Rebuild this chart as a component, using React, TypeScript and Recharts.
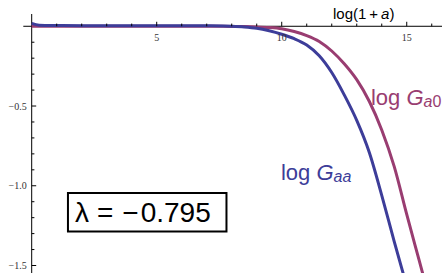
import React from "react";
import {
  LineChart,
  Line,
  XAxis,
  YAxis,
  ReferenceLine,
  ReferenceDot,
  ReferenceArea,
} from "recharts";

// ---- data ----
const xGaa = [0, 0.3, 1, 2, 3, 4, 5, 6, 7, 8, 8.5, 9, 9.5, 10, 10.5, 11, 11.5, 12, 12.5, 13, 13.5, 14, 14.5, 15];
const logGaa = [0.018, 0.007, 0.005, 0.004, 0.004, 0.004, 0.004, 0.004, 0.003, 0.0, -0.004, -0.012, -0.028, -0.05, -0.078, -0.118, -0.185, -0.29, -0.43, -0.59, -0.79, -1.06, -1.35, -1.63];

const xGa0 = [0, 1, 2, 3, 4, 5, 6, 7, 8, 8.5, 9, 9.5, 10, 10.5, 11, 11.5, 12, 12.5, 13, 13.5, 14, 14.5, 15, 15.5, 16, 16.5];
const logGa0 = [0, 0, 0, 0, 0, 0, 0, 0, -0.001, -0.002, -0.004, -0.008, -0.016, -0.033, -0.058, -0.095, -0.155, -0.235, -0.335, -0.47, -0.65, -0.88, -1.18, -1.47, -1.76, -2.05];

const xMajorTicks = [5, 10, 15];
const xTickLabels = ["5", "10", "15"];
const xMinorTicks = [1, 2, 3, 4, 6, 7, 8, 9, 11, 12, 13, 14, 16];
const yMajorTicks = [-0.5, -1.0, -1.5];
const yTickLabels = ["\u22120.5", "\u22121.0", "\u22121.5"];
const yMinorTicks = [-0.1, -0.2, -0.3, -0.4, -0.6, -0.7, -0.8, -0.9, -1.1, -1.2, -1.3, -1.4];

const xDomain: [number, number] = [-0.336, 16.41];
const yDomain: [number, number] = [-1.547, 0.077];

const gaaData = xGaa.map((x, i) => ({ x, y: logGaa[i] }));
const ga0Data = xGa0.map((x, i) => ({ x, y: logGa0[i] }));

const SANS = "'Liberation Sans', Arial, Helvetica, sans-serif";
const SERIF = "'Liberation Serif', 'Times New Roman', serif";
const BLUE = "#3d3d99";
const MAGENTA = "#993d71";

export default function App() {
  return (
    <div style={{ position: "absolute", left: 0, top: 0, width: 442, height: 273, background: "#fff" }}>
      <LineChart width={442} height={273} margin={{ top: 14, right: 0, bottom: 0, left: 23.3 }}>
        <XAxis type="number" dataKey="x" domain={xDomain} allowDataOverflow hide />
        <YAxis type="number" dataKey="y" domain={yDomain} allowDataOverflow hide />

        <ReferenceLine x={0} stroke="#000" strokeWidth={1} />
        <ReferenceLine y={0} stroke="#000" strokeWidth={1} />

        {xMajorTicks.map((v, i) => (
          <ReferenceDot
            key={"xM" + i}
            x={v}
            y={0}
            r={1}
            shape={(p: any) => (
              <g>
                <line x1={p.cx} y1={p.cy} x2={p.cx} y2={p.cy - 4.5} stroke="#000" strokeWidth={1} />
                <text x={p.cx} y={p.cy + 14.5} textAnchor="middle" fontFamily={SERIF} fontSize={10} fill="#333">
                  {xTickLabels[i]}
                </text>
              </g>
            )}
          />
        ))}
        {xMinorTicks.map((v, i) => (
          <ReferenceDot
            key={"xm" + i}
            x={v}
            y={0}
            r={1}
            shape={(p: any) => (
              <line x1={p.cx} y1={p.cy} x2={p.cx} y2={p.cy - 2.7} stroke="#000" strokeWidth={1} />
            )}
          />
        ))}
        {yMajorTicks.map((v, i) => (
          <ReferenceDot
            key={"yM" + i}
            x={0}
            y={v}
            r={1}
            shape={(p: any) => (
              <g>
                <line x1={p.cx} y1={p.cy} x2={p.cx + 4.5} y2={p.cy} stroke="#000" strokeWidth={1} />
                <text x={p.cx - 5} y={p.cy + 3.5} textAnchor="end" fontFamily={SERIF} fontSize={10} fill="#333">
                  {yTickLabels[i]}
                </text>
              </g>
            )}
          />
        ))}
        {yMinorTicks.map((v, i) => (
          <ReferenceDot
            key={"ym" + i}
            x={0}
            y={v}
            r={1}
            shape={(p: any) => (
              <line x1={p.cx} y1={p.cy} x2={p.cx + 2.7} y2={p.cy} stroke="#000" strokeWidth={1} />
            )}
          />
        ))}

        <Line
          data={ga0Data}
          dataKey="y"
          type="monotone"
          stroke={MAGENTA}
          strokeWidth={3}
          dot={false}
          activeDot={false}
          isAnimationActive={false}
        />
        <Line
          data={gaaData}
          dataKey="y"
          type="monotone"
          stroke={BLUE}
          strokeWidth={3}
          dot={false}
          activeDot={false}
          isAnimationActive={false}
        />

        {/* axis label */}
        <ReferenceDot
          x={12.05}
          y={0}
          r={1}
          shape={(p: any) => (
            <text x={p.cx} y={p.cy - 7} fontFamily={SANS} fontSize={15} fill="#000">
              log(1
              <tspan dx={3}>+</tspan>
              <tspan dx={3} fontStyle="italic">a</tspan>
              <tspan>)</tspan>
            </text>
          )}
        />

        {/* curve labels */}
        <ReferenceDot
          x={13.57}
          y={-0.493}
          r={1}
          shape={(p: any) => (
            <text x={p.cx} y={p.cy} fontFamily={SANS} fontSize={22} fill={MAGENTA}>
              log <tspan fontStyle="italic">G</tspan>
              <tspan fontSize={16} dy={2.5} fontStyle="italic">a</tspan>
              <tspan fontSize={16}>0</tspan>
            </text>
          )}
        />
        <ReferenceDot
          x={9.97}
          y={-0.961}
          r={1}
          shape={(p: any) => (
            <text x={p.cx} y={p.cy} fontFamily={SANS} fontSize={22} fill={BLUE}>
              log <tspan fontStyle="italic">G</tspan>
              <tspan fontSize={16} dy={2.5} fontStyle="italic">aa</tspan>
            </text>
          )}
        />

        {/* lambda box */}
        <ReferenceArea x1={1.45} x2={7.79} y1={-1.2865} y2={-1.045} fill="none" fillOpacity={0} stroke="#000" strokeWidth={2} />
        <ReferenceDot
          x={1.73}
          y={-1.227}
          r={1}
          shape={(p: any) => (
            <text x={p.cx} y={p.cy} fontFamily={SANS} fontSize={28} fill="#000">
              <tspan>λ</tspan>
              <tspan dx={8}>=</tspan>
              <tspan dx={9}>{"\u2212"}</tspan>
              <tspan dx={2}>0.795</tspan>
            </text>
          )}
        />
      </LineChart>
    </div>
  );
}
